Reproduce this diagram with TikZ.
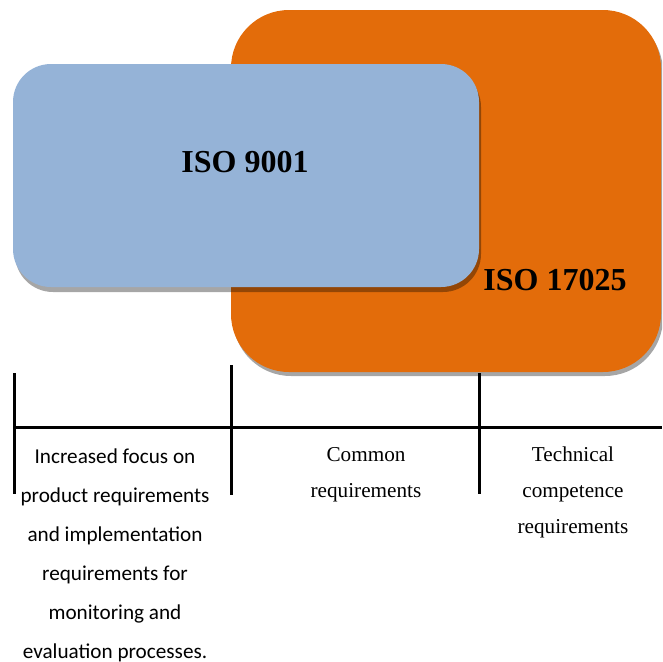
\documentclass[tikz,border=0pt]{standalone}
\usepackage{fontspec}
\setmainfont{Liberation Serif}
\newfontfamily\carlito{Carlito}
\definecolor{isoorange}{HTML}{E36C0A}
\definecolor{isoblue}{HTML}{95B3D7}
\begin{document}
\begin{tikzpicture}[x=1pt,y=-1pt,
  box/.style={rounded corners=#1},
  shadowfill/.style={fill=black,fill opacity=0.35},
  rule/.style={line width=3pt},
  sanscol/.style={align=center,anchor=base,font=\carlito\fontsize{21.2}{39}\selectfont,inner sep=0pt},
  serifcol/.style={align=center,anchor=base,font=\fontsize{21.2}{36.3}\selectfont,inner sep=0pt},
  title/.style={anchor=base,font=\bfseries\fontsize{32}{36}\selectfont,inner sep=0pt}]
\useasboundingbox (0,0) rectangle (662,662);
% orange box with shadow
\begin{scope}
\clip (0,0) rectangle (662,662);
\fill[shadowfill,box=58pt] (233,14) rectangle (663,376);
\fill[isoorange,box=58pt] (231,10) rectangle (661,372);
\end{scope}
% blue box with shadow
\fill[shadowfill,box=38pt] (15,69) rectangle (481,292);
\fill[isoblue,box=38pt] (13,64) rectangle (479,287);
\node[title] (iso9001) at (245,172) {ISO 9001};
\node[title] (iso17025) at (555,290) {ISO 17025};
% rules
\coordinate (hl) at (14,427);
\coordinate (hr) at (662,427);
\draw[rule] (hl) -- (hr);
\coordinate (v1t) at (14,373); \coordinate (v1b) at (14,494);
\coordinate (v2t) at (231,365); \coordinate (v2b) at (231,495);
\coordinate (v3t) at (479,373); \coordinate (v3b) at (479,494);
\draw[rule] (v1t) -- (v1b);
\draw[rule] (v2t) -- (v2b);
\draw[rule] (v3t) -- (v3b);
% column texts (base anchor = baseline of last line)
\node[sanscol] (leftcol) at (115,658) {Increased focus on\\product requirements\\and implementation\\requirements for\\monitoring and\\evaluation processes.};
\node[serifcol] (midcol) at (366,497.3) {Common\\requirements};
\node[serifcol] (rightcol) at (573,533.6) {Technical\\competence\\requirements};
\end{tikzpicture}
\end{document}
